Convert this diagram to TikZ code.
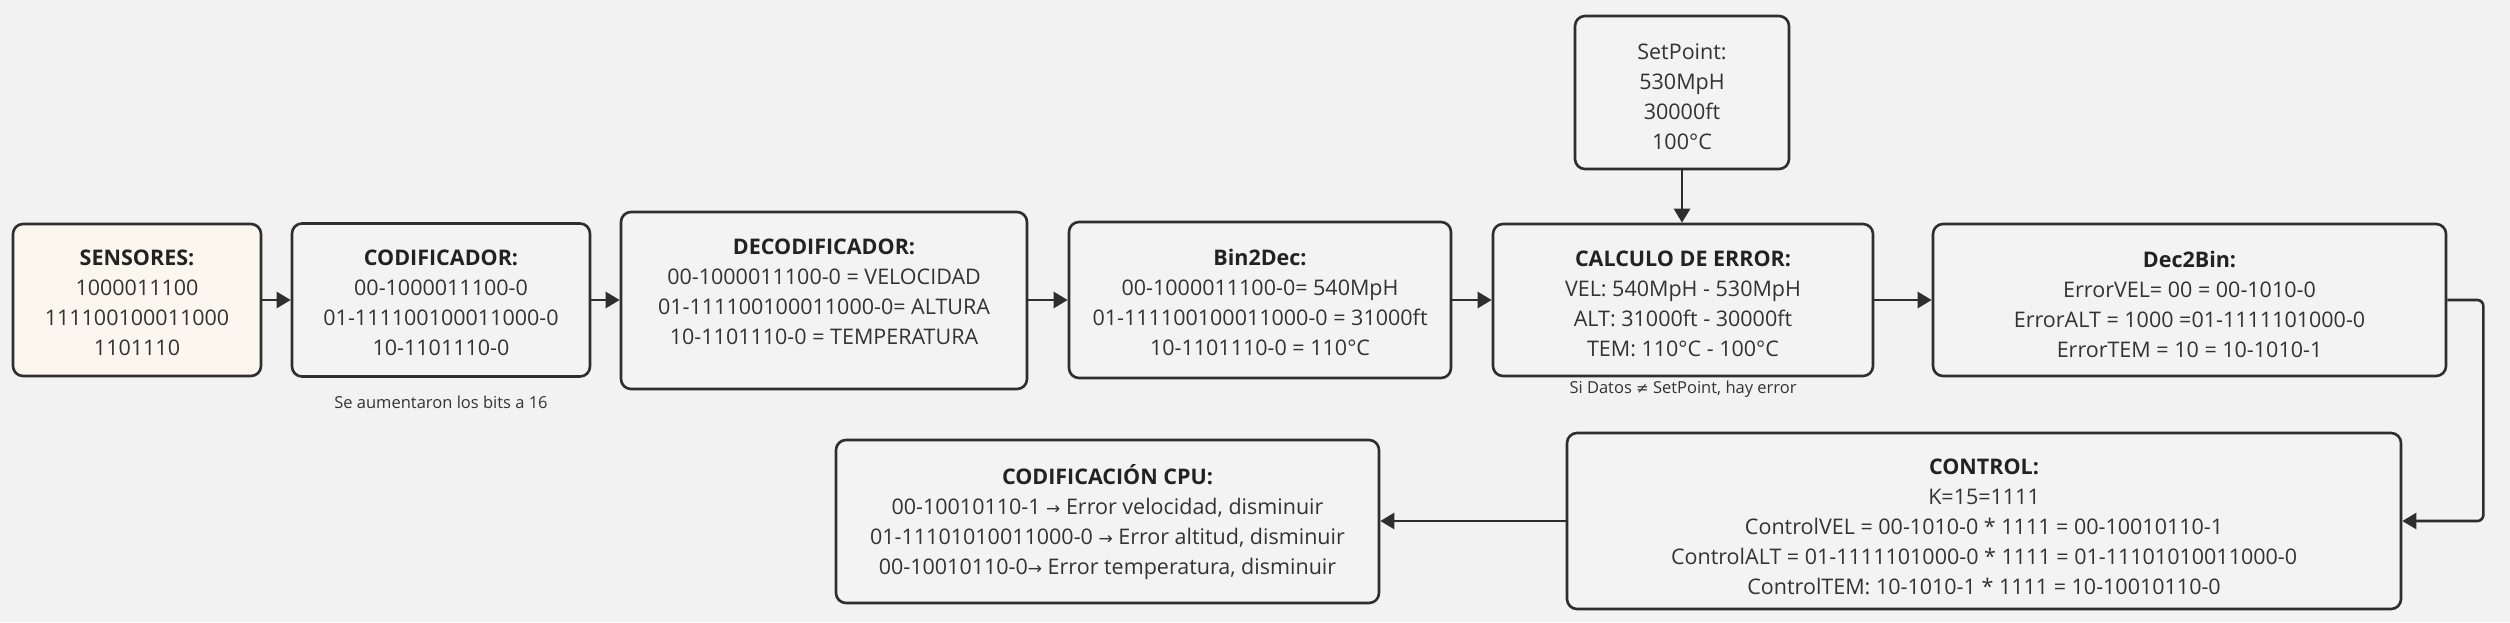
\documentclass[tikz,border=0pt]{standalone}
\usepackage{fontspec}
\setmainfont{Open Sans}
\newfontfamily\symf{DejaVu Sans}
\usetikzlibrary{arrows.meta}
\definecolor{bg}{HTML}{F2F2F2}
\definecolor{boxfill}{HTML}{F3F3F3}
\definecolor{cream}{HTML}{FBF7EF}
\definecolor{edge}{HTML}{2E2E2E}
\definecolor{ink}{HTML}{333333}
\definecolor{titleink}{HTML}{222222}
\newcommand{\ttl}[1]{{\bfseries\color{titleink}#1}}
\newcommand{\rarr}{{\symf\fontsize{17}{30}\selectfont →}}
\begin{document}
\begin{tikzpicture}[x=1pt,y=-1pt,
  box/.style={draw=edge, line width=2.6pt, rounded corners=10pt, fill=boxfill, inner sep=0pt},
  txt/.style={align=center, text=ink, font=\fontsize{21.5}{30}\selectfont, inner sep=0pt},
  note/.style={text=ink, font=\fontsize{16.5}{20}\selectfont, inner sep=0pt},
  arr/.style={draw=edge, line width=2.6pt, -{Triangle[length=14pt,width=16pt]}}]
\fill[bg] (0,0) rectangle (2510,622);
\useasboundingbox (0,0) rectangle (2510,622);

% boxes
\node[box, fill=cream, minimum width=248pt, minimum height=152pt] (sens) at (137,300) {};
\node[box, minimum width=298pt, minimum height=153pt] (cod) at (441,300) {};
\node[box, minimum width=406pt, minimum height=177pt] (dec) at (824,300.5) {};
\node[box, minimum width=382pt, minimum height=156pt] (b2d) at (1260,300) {};
\node[box, minimum width=214pt, minimum height=153pt] (sp) at (1682,92.5) {};
\node[box, minimum width=380pt, minimum height=152pt] (calc) at (1683,300) {};
\node[box, minimum width=513pt, minimum height=152pt] (d2b) at (2189.5,300) {};
\node[box, minimum width=834pt, minimum height=176pt] (ctrl) at (1984,521) {};
\node[box, minimum width=543pt, minimum height=163pt] (cpu) at (1107.5,521.5) {};

% texts
\node[txt] (sensT) at (137,303) {\ttl{SENSORES:}\\1000011100\\111100100011000\\1101110};
\node[txt] (codT) at (441,303) {\ttl{CODIFICADOR:}\\00-1000011100-0\\01-111100100011000-0\\10-1101110-0};
\node[txt] (decT) at (824,292) {\ttl{DECODIFICADOR:}\\00-1000011100-0 = VELOCIDAD\\01-111100100011000-0= ALTURA\\10-1101110-0 = TEMPERATURA};
\node[txt] (b2dT) at (1260,302) {\ttl{Bin2Dec:}\\00-1000011100-0= 540MpH\\01-111100100011000-0 = 31000ft\\10-1101110-0 = 110°C};
\node[txt] (spT) at (1682,97) {SetPoint:\\530MpH\\30000ft\\100°C};
\node[txt] (calcT) at (1683,304) {\ttl{CALCULO DE ERROR:}\\VEL: 540MpH - 530MpH\\ALT: 31000ft - 30000ft\\TEM: 110°C - 100°C};
\node[txt] (d2bT) at (2189.5,304) {\ttl{Dec2Bin:}\\ErrorVEL= 00 = 00-1010-0\\ErrorALT = 1000 =01-1111101000-0\\ErrorTEM = 10 = 10-1010-1};
\node[txt] (ctrlT) at (1984,527) {\ttl{CONTROL:}\\K=15=1111\\ControlVEL = 00-1010-0 * 1111 = 00-10010110-1\\ControlALT = 01-1111101000-0 * 1111 = 01-11101010011000-0\\ControlTEM: 10-1010-1 * 1111 = 10-10010110-0};
\node[txt] (cpuT) at (1107.5,522) {\ttl{CODIFICACIÓN CPU:}\\00-10010110-1 \rarr{} Error velocidad, disminuir\\01-11101010011000-0 \rarr{} Error altitud, disminuir\\00-10010110-0\rarr{} Error temperatura, disminuir};

% notes
\node[note] (n1) at (441,402) {Se aumentaron los bits a 16};
\node[note] (n2) at (1683,389) {Si Datos {\symf\fontsize{15}{20}\selectfont ≠} SetPoint, hay error};

% connectors
\draw[arr] (sens.east) -- (sens.east -| cod.west);
\draw[arr] (cod.east) -- (cod.east -| dec.west);
\draw[arr] (dec.east |- b2d.west) -- (b2d.west);
\draw[arr] (b2d.east) -- (b2d.east -| calc.west);
\draw[arr] (calc.east) -- (calc.east -| d2b.west);
\draw[arr] (sp.south) -- (sp.south |- calc.north);
\draw[arr, rounded corners=6pt] (d2b.east) -- ++(36,0) |- (ctrl.east);
\draw[arr] (ctrl.west) -- (ctrl.west -| cpu.east);
\end{tikzpicture}
\end{document}
